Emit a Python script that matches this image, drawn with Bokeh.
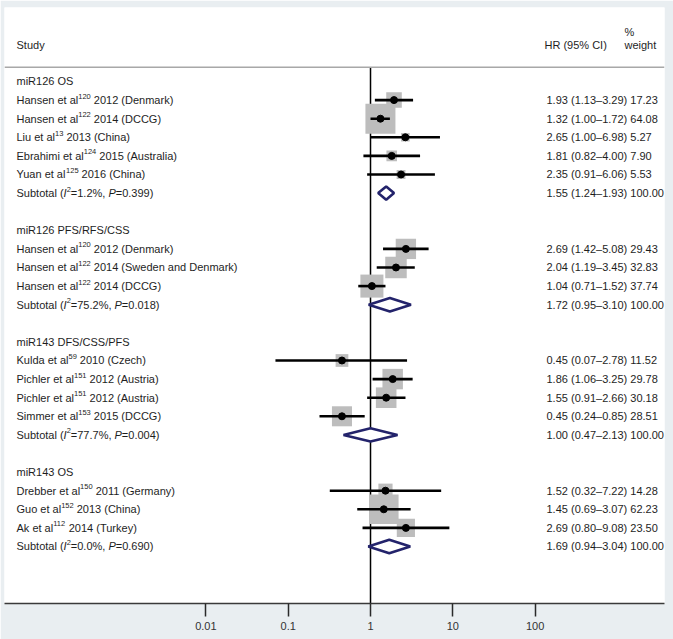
import math
from bokeh.plotting import figure
from bokeh.models import Range1d, FixedTicker, ColumnDataSource, Span
from bokeh.core.properties import value
from bokeh.embed import file_html
from bokeh.resources import INLINE

# ---------------- data ----------------
groups = ["miR126 OS", "miR126 PFS/RFS/CSS", "miR143 DFS/CSS/PFS", "miR143 OS"]
group_sizes = [5, 3, 4, 3]

authors = ["Hansen et al", "Hansen et al", "Liu et al", "Ebrahimi et al", "Yuan et al",
           "Hansen et al", "Hansen et al", "Hansen et al",
           "Kulda et al", "Pichler et al", "Pichler et al", "Simmer et al",
           "Drebber et al", "Guo et al", "Ak et al"]
refs = ["120", "122", "13", "124", "125",
        "120", "122", "122",
        "59", "151", "151", "153",
        "150", "152", "112"]
details = ["2012 (Denmark)", "2014 (DCCG)", "2013 (China)", "2015 (Australia)", "2016 (China)",
           "2012 (Denmark)", "2014 (Sweden and Denmark)", "2014 (DCCG)",
           "2010 (Czech)", "2012 (Austria)", "2012 (Austria)", "2015 (DCCG)",
           "2011 (Germany)", "2013 (China)", "2014 (Turkey)"]
hr = [1.93, 1.32, 2.65, 1.81, 2.35,
      2.69, 2.04, 1.04,
      0.45, 1.86, 1.55, 0.45,
      1.52, 1.45, 2.69]
lo = [1.13, 1.00, 1.00, 0.82, 0.91,
      1.42, 1.19, 0.71,
      0.07, 1.06, 0.91, 0.24,
      0.32, 0.69, 0.80]
hi = [3.29, 1.72, 6.98, 4.00, 6.06,
      5.08, 3.45, 1.52,
      2.78, 3.25, 2.66, 0.85,
      7.22, 3.07, 9.08]
weights = [17.23, 64.08, 5.27, 7.90, 5.53,
           29.43, 32.83, 37.74,
           11.52, 29.78, 30.18, 28.51,
           14.28, 62.23, 23.50]

sub_i2 = ["1.2%", "75.2%", "77.7%", "0.0%"]
sub_p = ["0.399", "0.018", "0.004", "0.690"]
sub_hr = [1.55, 1.72, 1.00, 1.69]
sub_lo = [1.24, 0.95, 0.47, 0.94]
sub_hi = [1.93, 3.10, 2.13, 3.04]
sub_wt = [100.00, 100.00, 100.00, 100.00]

tick_vals = [0.01, 0.1, 1, 10, 100]
tick_labels = ["0.01", "0.1", "1", "10", "100"]

# ---------------- styling ----------------
BG = "#e9eef1"
TXT = "#1e1e1e"
FONT = "Liberation Sans"
FS = 11.0
SUP = 7.5
NAVY = "#23236b"
GREY_SQ = "#bdbdbd"

# Arial / Liberation Sans advance widths (per 1000 em)
AW = {' ': 278, '(': 333, ')': 333, ',': 278, '-': 333, '.': 278, '/': 278, '=': 584,
      '%': 889, '\u2013': 556}
for d in "0123456789":
    AW[d] = 556
AW.update(dict(zip("ABCDEFGHIJKLMNOPQRSTUVWXYZ",
                   [667, 667, 722, 722, 667, 611, 778, 722, 278, 500, 667, 556, 833, 722, 778,
                    667, 778, 722, 667, 611, 722, 667, 944, 667, 667, 611])))
AW.update(dict(zip("abcdefghijklmnopqrstuvwxyz",
                   [556, 556, 500, 556, 556, 278, 556, 556, 222, 222, 500, 222, 833, 556, 556,
                    556, 556, 333, 500, 278, 556, 500, 722, 500, 500, 500])))


def tw(s, size):
    return sum(AW.get(c, 556) for c in s) * size / 1000.0


# ---------------- rows ----------------
rows_study, rows_group, rows_sub = [], [], []
r = 0
for g, n in enumerate(group_sizes):
    rows_group.append(r)
    for j in range(n):
        rows_study.append(r + 1 + j)
    rows_sub.append(r + n + 1)
    r = r + n + 3

lhr = [math.log10(v) for v in hr]
llo = [math.log10(v) for v in lo]
lhi = [math.log10(v) for v in hi]
side = [3.75 * math.sqrt(w) for w in weights]

X0, X1 = -4.447, 3.572
Y_BOTTOM, Y_TOP = 28.065, -3.978

p = figure(width=673, height=639,
           x_range=Range1d(X0, X1), y_range=Range1d(Y_BOTTOM, Y_TOP),
           output_backend="svg", toolbar_location=None, y_axis_location=None,
           min_border_left=4, min_border_right=9, min_border_top=7, min_border_bottom=36)
p.border_fill_color = BG
p.background_fill_color = "white"
p.outline_line_color = None
p.grid.visible = False

# axis
ax = p.xaxis[0]
ax.ticker = FixedTicker(ticks=[math.log10(t) for t in tick_vals])
ax.major_label_overrides = {int(round(math.log10(t))): lab for t, lab in zip(tick_vals, tick_labels)}
ax.major_tick_in = 0
ax.major_tick_out = 13
ax.minor_tick_line_color = None
ax.axis_line_color = "#3a3a3a"
ax.axis_line_width = 1.6
ax.major_tick_line_color = "#2a2a2a"
ax.major_tick_line_width = 1.5
ax.major_label_text_font = FONT
ax.major_label_text_font_size = "11px"
ax.major_label_text_color = "#333333"
ax.major_label_standoff = 5

# header separator
SEP = -0.77
p.add_layout(Span(location=SEP, dimension="width", line_color="#a8a8a8", line_width=1.5))

# null line
p.segment(x0=[0], x1=[0], y0=[SEP], y1=[Y_BOTTOM], line_color="black", line_width=1.5)

# study squares, CI lines, points
src = ColumnDataSource(dict(x=lhr, lo=llo, hi=lhi, y=rows_study, s=side))
p.rect(x="x", y="y", width="s", height="s", width_units="screen", height_units="screen",
       source=src, fill_color=GREY_SQ, line_color=None)
p.segment(x0="lo", x1="hi", y0="y", y1="y", source=src, line_color="black", line_width=2.6)
p.scatter(x="x", y="y", source=src, marker="circle", size=7, fill_color="black", line_color="black")

# subtotal diamonds
H = 0.36
dxs, dys = [], []
for i in range(len(sub_hr)):
    c, a, b = math.log10(sub_hr[i]), math.log10(sub_lo[i]), math.log10(sub_hi[i])
    y = rows_sub[i]
    dxs.append([a, c, b, c])
    dys.append([y, y - H, y, y + H])
p.patches(xs=dxs, ys=dys, fill_color="white", line_color=NAVY, line_width=2.6)

# ---------------- texts ----------------
LEFT = 12.0  # px from frame left
seg_normal = dict(x=[], y=[], t=[], xo=[])
seg_italic = dict(x=[], y=[], t=[], xo=[])
seg_sup = dict(x=[], y=[], t=[], xo=[])


def add(seg, y, text, xo):
    seg["x"].append(X0)
    seg["y"].append(y)
    seg["t"].append(text)
    seg["xo"].append(xo)


for g, name in enumerate(groups):
    add(seg_normal, rows_group[g], name, LEFT)

for i in range(len(authors)):
    y = rows_study[i]
    xo = LEFT
    add(seg_normal, y, authors[i], xo)
    xo += tw(authors[i], FS)
    add(seg_sup, y, refs[i], xo)
    xo += tw(refs[i], SUP) + tw(" ", FS)
    add(seg_normal, y, details[i], xo)

for g in range(len(groups)):
    y = rows_sub[g]
    parts = [("Subtotal (", "n"), ("I", "i"), ("2", "s"), ("=" + sub_i2[g] + ",", "n"),
             (" ", "gap"), ("P", "i"), ("=" + sub_p[g] + ")", "n")]
    xo = LEFT
    for txt, st in parts:
        if st == "n":
            add(seg_normal, y, txt, xo)
            xo += tw(txt, FS)
        elif st == "i":
            add(seg_italic, y, txt, xo)
            xo += tw(txt, FS)
        elif st == "gap":
            xo += tw(txt, FS)
        else:
            add(seg_sup, y, txt, xo)
            xo += tw(txt, SUP)

# right column
RCOL = 542.0  # px from frame left
for i in range(len(hr)):
    add(seg_normal, rows_study[i],
        f"{hr[i]:.2f} ({lo[i]:.2f}\u2013{hi[i]:.2f}) {weights[i]:.2f}", RCOL)
for g in range(len(groups)):
    add(seg_normal, rows_sub[g],
        f"{sub_hr[g]:.2f} ({sub_lo[g]:.2f}\u2013{sub_hi[g]:.2f}) {sub_wt[g]:.2f}", RCOL)

# headers
HDR_Y = -1.935
add(seg_normal, HDR_Y, "Study", LEFT)
add(seg_normal, HDR_Y, "HR (95% CI)", 540.0)
add(seg_normal, HDR_Y, "weight", 620.0)
add(seg_normal, -2.65, "%", 620.0)

common = dict(x="x", y="y", text="t", x_offset="xo", text_baseline="middle",
              text_align="left", text_color=TXT, text_font=value(FONT))
p.text(source=ColumnDataSource(seg_normal), text_font_size="11px", **common)
p.text(source=ColumnDataSource(seg_italic), text_font_size="11px", text_font_style="italic", **common)
p.text(source=ColumnDataSource(seg_sup), text_font_size="7.5px", y_offset=-4, **common)

open("out.html", "w").write(file_html(p, INLINE))
